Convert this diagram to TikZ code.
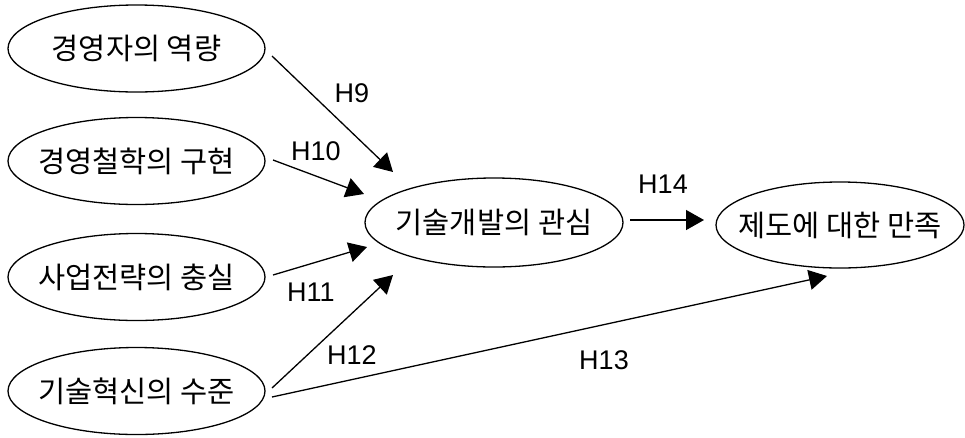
\documentclass[tikz,border=0pt]{standalone}
\usepackage{fontspec}
\setmainfont{Noto Sans CJK KR}
\newfontfamily\hfont{Liberation Sans}
\usetikzlibrary{shapes.geometric,arrows.meta}
\newcommand{\zw}[1]{\makebox[0pt]{#1}}
\begin{document}
\begin{tikzpicture}[x=1pt,y=-1pt,
  con/.style={ellipse,draw,line width=1.3pt,inner sep=0pt,minimum width=257pt,minimum height=87pt,font=\fontsize{29.5}{32}\selectfont},
  link/.style={line width=1.3pt,-{Triangle[length=18pt,width=20pt]}},
  hlab/.style={font=\hfont\fontsize{27}{30}\selectfont,inner sep=0pt}]
\useasboundingbox (0,0) rectangle (965,437);
\node[con] (a) at (136.5,48.5) {\zw{경영자의 역량}};
\node[con] (b) at (136.5,161) {\zw{경영철학의 구현}};
\node[con] (c) at (136.5,277) {\zw{사업전략의 충실}};
\node[con] (d) at (136.5,391) {\zw{기술혁신의 수준}};
\node[con,minimum width=258pt,minimum height=89pt] (m) at (494,222.5) {\zw{기술개발의 관심}};
\node[con,minimum width=248pt,minimum height=86pt] (r) at (840,225) {\zw{제도에 대한 만족}};
\coordinate (a1) at (272,56);   \coordinate (m1) at (393,172);
\coordinate (b1) at (273,160);  \coordinate (m2) at (364,194);
\coordinate (c1) at (273,275);  \coordinate (m3) at (367,247);
\coordinate (d1) at (272,388);  \coordinate (m4) at (393,275);
\coordinate (d2) at (272,397);  \coordinate (r1) at (827,276);
\coordinate (m5) at (630,220);  \coordinate (r2) at (704,220);
\draw[link] (a1) -- (m1);
\draw[link] (b1) -- (m2);
\draw[link] (c1) -- (m3);
\draw[link] (d1) -- (m4);
\draw[link] (d2) -- (r1);
\draw[link] (m5) -- (r2);
\node[hlab] (h9) at (352,93) {H9};
\node[hlab] (h10) at (316,151) {H10};
\node[hlab] (h11) at (311,292) {H11};
\node[hlab] (h12) at (352,355) {H12};
\node[hlab] (h13) at (604,360) {H13};
\node[hlab] (h14) at (663,184) {H14};
\end{tikzpicture}
\end{document}
